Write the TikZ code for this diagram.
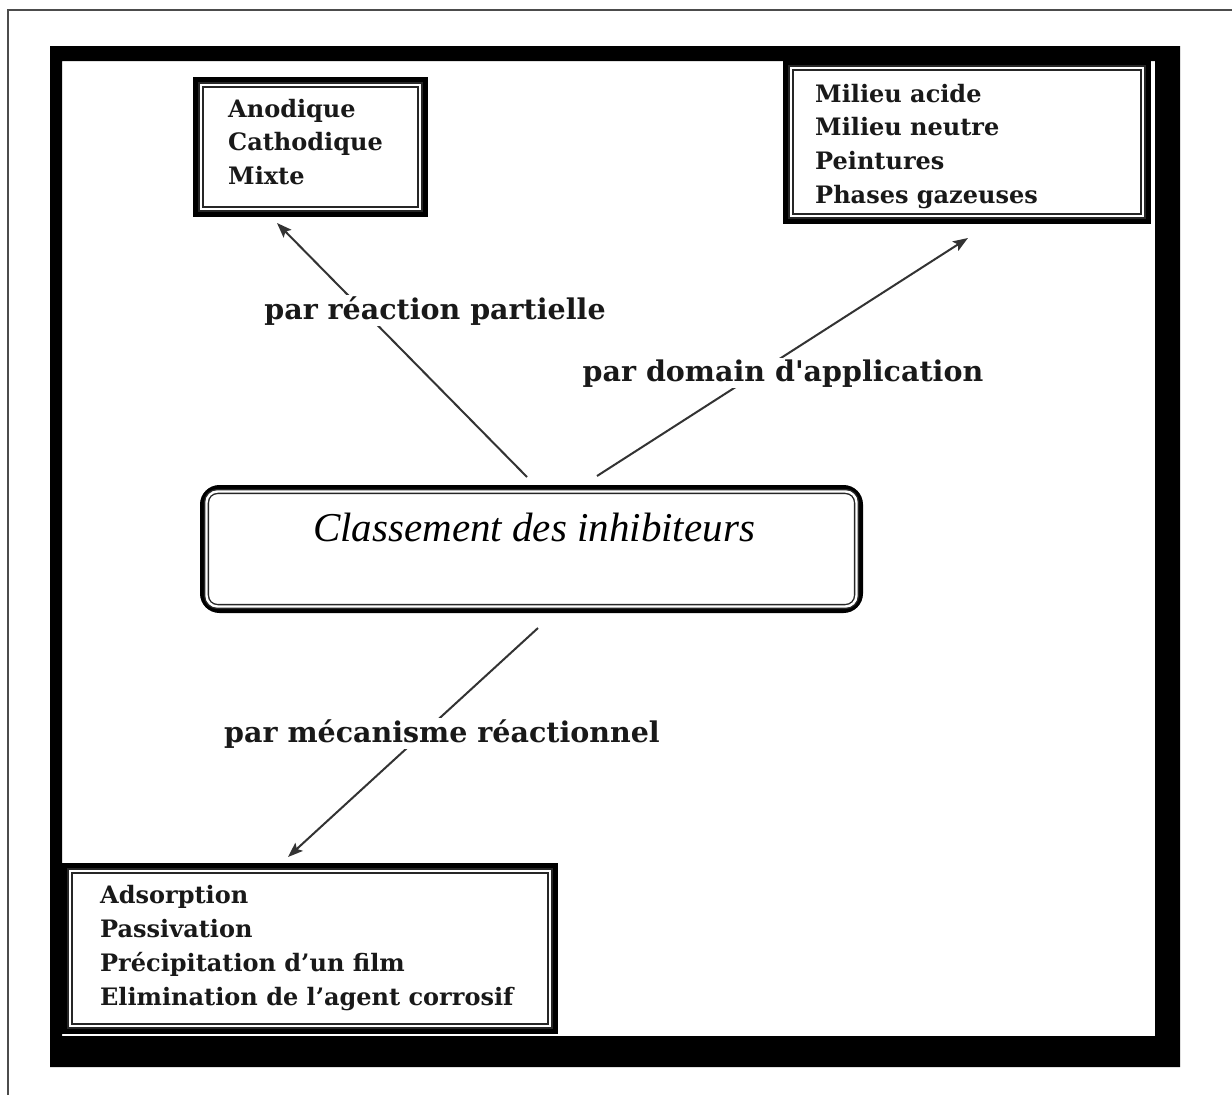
\documentclass[tikz,border=0pt]{standalone}
\usepackage{fontspec}
\setmainfont{DejaVu Serif}
\newfontfamily\titlefont{Liberation Serif}
\usetikzlibrary{arrows.meta,calc}
\begin{document}
\begin{tikzpicture}[x=1pt,y=-1pt,
  outerbox/.style={draw=black, line width=7pt, inner sep=0pt},
  dbl/.style={draw=black!85, line width=1.4pt, double=white, double distance=2.4pt},
  item/.style={anchor=base west, inner sep=0pt, font=\fontsize{24}{28}\selectfont\bfseries, text=black!90},
  lab/.style={anchor=base, fill=white, inner sep=1pt, font=\fontsize{28.5}{32}\selectfont\bfseries, text=black!90},
  arr/.style={draw=black!80, line width=2pt, -{Stealth[length=15pt,width=11pt,inset=3pt]}}]
\useasboundingbox (0,0) rectangle (1232,1095);
\fill[white] (0,0) rectangle (1232,1095);
% outer thin border
\draw[black!70, line width=1.5pt] (8,1095) -- (8,10) -- (1232,10);
% heavy frame
\fill[black, even odd rule] (50,46) rectangle (1180,1067) (62,61) rectangle (1155,1036);

% top-left box
\node[outerbox, minimum width=228pt, minimum height=133pt] (tl) at (310.5,147) {};
\draw[dbl] ($(tl.north west)+(8,8)$) rectangle ($(tl.south east)+(-8,-8)$);
\node[item] (tl1) at (228,117) {Anodique};
\node[item] (tl2) at (228,150.5) {Cathodique};
\node[item] (tl3) at (228,184) {Mixte};

% top-right box
\node[outerbox, minimum width=361pt, minimum height=157pt] (tr) at (967,142) {};
\draw[dbl] ($(tr.north west)+(8,8)$) rectangle ($(tr.south east)+(-8,-8)$);
\node[item] (tr1) at (815,102) {Milieu acide};
\node[item] (tr2) at (815,135.7) {Milieu neutre};
\node[item] (tr3) at (815,169.4) {Peintures};
\node[item] (tr4) at (815,203) {Phases gazeuses};

% bottom box
\node[outerbox, minimum width=489pt, minimum height=164pt] (bt) at (310,948.5) {};
\draw[dbl] ($(bt.north west)+(8,8)$) rectangle ($(bt.south east)+(-8,-8)$);
\node[item] (bt1) at (100,903) {Adsorption};
\node[item] (bt2) at (100,937) {Passivation};
\node[item] (bt3) at (100,971) {Précipitation d’un film};
\node[item] (bt4) at (100,1005) {Elimination de l’agent corrosif};

% centre box
\node[draw=black, line width=5pt, rounded corners=17pt, minimum width=658pt, minimum height=123pt, inner sep=0pt] (cls) at (531.5,549) {};
\draw[dbl, rounded corners=11pt] ($(cls.north west)+(6.5,6.5)$) rectangle ($(cls.south east)+(-6.5,-6.5)$);
\node[anchor=base, inner sep=0pt, font=\titlefont\itshape\fontsize{41}{44}\selectfont] (clt) at (534,541) {Classement des inhibiteurs};

% connectors
\coordinate (s1) at (527,477);
\coordinate (e1) at (277,223);
\coordinate (s2) at (597,476);
\coordinate (e2) at (968,238);
\coordinate (s3) at (538,628);
\coordinate (e3) at (288,857);
\draw[arr] (s1) -- (e1);
\draw[arr] (s2) -- (e2);
\draw[arr] (s3) -- (e3);

% labels
\node[lab] (l1) at (435,319) {par réaction partielle};
\node[lab] (l2) at (783,381) {par domain d\textquotesingle application};
\node[lab] (l3) at (442,742) {par mécanisme réactionnel};
\end{tikzpicture}
\end{document}
